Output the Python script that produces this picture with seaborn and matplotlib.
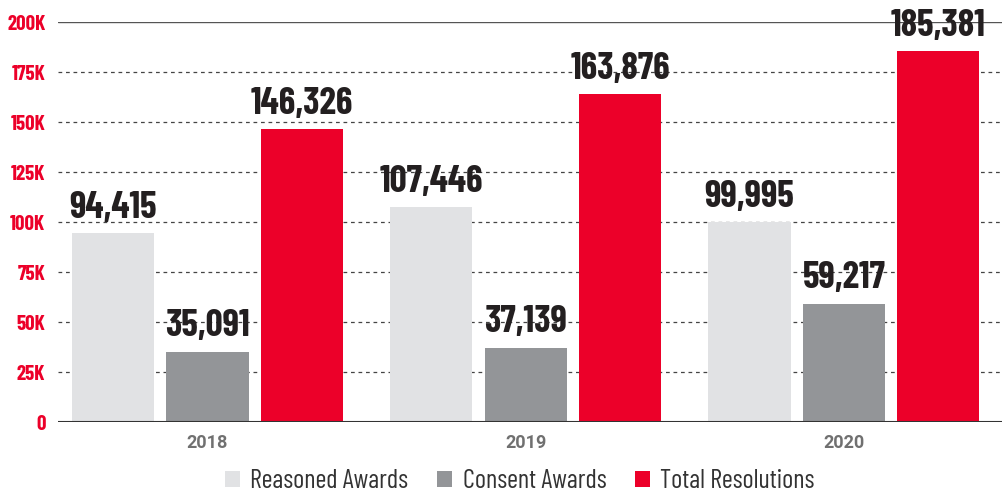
import pandas as pd
import seaborn as sns
import matplotlib
matplotlib.use("Agg")
import matplotlib.pyplot as plt
from matplotlib.ticker import FuncFormatter

years = ["2018", "2019", "2020"]
series = ["Reasoned Awards", "Consent Awards", "Total Resolutions"]
reasoned = [94415, 107446, 99995]
consent = [35091, 37139, 59217]
total = [146326, 163876, 185381]
colors = ["#e1e2e4", "#939598", "#ec0029"]

df = pd.DataFrame({
    "year": years * 3,
    "series": [s for s in series for _ in years],
    "value": reasoned + consent + total,
})

sns.set_style("white")
cond = ["Barlow Condensed", "DejaVu Sans"]

fig = plt.figure(figsize=(10.03, 4.93), dpi=100)
ax = fig.add_axes([58 / 1003, 71 / 493, 945 / 1003, 400 / 493])

sns.barplot(data=df, x="year", y="value", hue="series", palette=colors,
            width=0.89, gap=0.13, saturation=1, linewidth=0, ax=ax, zorder=3)

ax.set_ylim(0, 200000)
ax.set_xlim(-0.47, 2.50)
ax.set_yticks(range(0, 200001, 25000))
ax.yaxis.set_major_formatter(FuncFormatter(lambda v, p: "0" if v == 0 else f"{int(v / 1000)}K"))

# gridlines
for v in range(25000, 200000, 25000):
    ax.axhline(v, color="#444444", lw=0.9, ls=(0, (3, 3)), zorder=1)
ax.axhline(200000, color="#555555", lw=1.0, zorder=1)
ax.axhline(0, color="#333333", lw=1.5, zorder=4)

for s in ax.spines.values():
    s.set_visible(False)

ax.tick_params(axis="y", length=0, pad=9)
ax.tick_params(axis="x", length=0, pad=9)
for lab in ax.get_yticklabels():
    lab.set_family(cond)
    lab.set_fontweight("bold")
    lab.set_fontsize(15)
    lab.set_color("#ec0029")
for lab in ax.get_xticklabels():
    lab.set_family(["Roboto", "DejaVu Sans"])
    lab.set_fontweight("bold")
    lab.set_fontsize(13)
    lab.set_color("#707070")
ax.set_xlabel("")
ax.set_ylabel("")

for cont in ax.containers:
    ax.bar_label(cont, labels=[f"{v:,.0f}" for v in cont.datavalues], padding=6,
                 fontsize=27, fontweight="bold", color="#231f20", family=cond)

handles, labels = ax.get_legend_handles_labels()
ax.legend_.remove()
leg = fig.legend(handles, labels, loc="center", bbox_to_anchor=(520 / 1003, 12 / 493),
                 ncol=3, frameon=False, handlelength=0.55, handleheight=0.55,
                 handletextpad=0.4, columnspacing=1.1,
                 prop={"family": cond, "size": 19, "weight": "normal"})
for t in leg.get_texts():
    t.set_color("#333333")

fig.savefig("out.png", dpi=100)
